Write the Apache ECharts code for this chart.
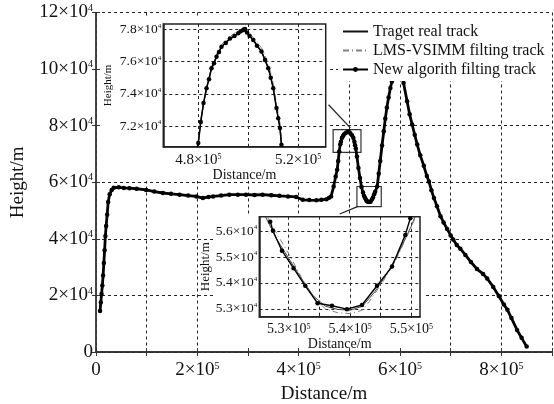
<!DOCTYPE html>
<html><head><meta charset="utf-8">
<script src="https://cdn.jsdelivr.net/npm/echarts@6/dist/echarts.min.js"></script>
<style>html,body{margin:0;padding:0;background:#fff}#c{width:554px;height:404px}</style>
</head><body><div id="c"></div>
<script>
// ---------- data ----------
const legendNames = ['Traget real track', 'LMS-VSIMM filting track', 'New algorith filting track'];

// main track (Distance m, Height m)
const mainX = [8000,9500,11000,12500,14000,15500,17000,18500,20000,22000,24000,27000,31000,35000,45000,55000,66000,80000,99000,115000,132000,148000,165000,182000,198000,211000,222000,231000,247000,263000,280000,296000,313000,329000,346000,362000,379000,395000,408000,421000,435000,445000,455000,460000,464000,469000,473000,476000,478000,480000,482100,483300,485300,487300,489300,492700,496000,498700,502000,505300,508000,510000,511300,512700,515000,518000,521000,524000,527000,528900,530800,532700,534700,537000,539500,541900,544400,546800,549000,551000,555000,558000,561000,564500,568000,571000,574000,577500,581000,584000,590000,595000,600000,603500,607000,614000,619000,624000,629000,634000,640000,647000,653000,657000,662000,667000,673000,680000,686000,693000,700000,705000,712000,719000,729000,740000,752000,764000,772000,784000,795000,805000,812000,820000,831000,840000,850000];
const mainY = [14500,17500,20500,23500,27000,31500,36000,41000,44500,48500,53000,55800,57300,58100,58200,58000,57900,57700,57300,56700,56200,55900,55600,55300,55000,54400,54800,55000,55300,55600,55600,55600,55500,55600,55400,55200,55000,54800,53800,53700,53600,53800,54000,54500,55000,58500,62000,64400,67500,70900,73400,74300,75600,76300,76900,77400,77750,78000,77350,76600,75600,74350,73100,71900,69100,65000,61500,58300,56350,55250,54550,53900,53250,53100,53000,53150,53900,54600,55800,56600,58500,63000,67500,73000,78000,82500,86300,90000,93300,95600,99500,101000,100000,97800,95100,88600,84000,80400,76800,73300,69500,65800,62200,60300,57200,54400,51500,48000,45800,43500,41200,39800,37800,36500,34300,31800,29300,27600,26000,23000,19800,16800,14900,12000,7800,5000,1900];

// inset 1 (first peak)
const ins1X    = [479600,480000,481000,482100,483300,484300,485300,486300,487300,488300,489300,491000,492700,494500,496000,497000,498000,498700,499500,500500,502000,503500,505300,506700,508000,509000,510000,511300,512000,512700,513300];
const ins1Real = [70700,70950,72300,73400,74350,74950,75600,75950,76300,76650,76900,77200,77430,77600,77750,77850,77960,78000,77850,77620,77340,77000,76620,76150,75600,75050,74350,73100,72500,71870,70830];
const ins1Lms  = [70800,71100,72400,73450,74300,75000,75700,76050,76450,76800,77050,77350,77550,77750,77900,78020,78120,78150,77950,77750,77500,77200,76850,76400,75850,75300,74650,73400,72800,72200,71200];
const ins1New  = [70700,70940,72250,73420,74350,74900,75590,75900,76300,76600,76920,77150,77430,77580,77750,77880,77960,78020,77800,77600,77340,76980,76620,76100,75590,75000,74350,73110,72480,71870,70830];

// inset 2 (valley)
const ins2RealX = [526200,528000,530000,532000,534000,536000,538000,540000,542000,544000,546000,548000,550000,550600];
const ins2RealY = [56550,55700,54950,54200,53500,53100,52980,52950,53100,53650,54350,55200,56200,56550];
const ins2LmsX  = [526500,528300,530300,532200,534000,536000,538000,540000,542000,543500,545500,547500,549500,550700];
const ins2LmsY  = [56550,55800,55000,54150,53450,53000,52850,52820,52950,53400,54100,54900,55900,56550];
const ins2NewX  = [526980,527420,528890,530780,532690,534700,537050,539490,541940,544390,546840,549000,549820];
const ins2NewY  = [56360,56010,55240,54570,53890,53220,53120,52990,53150,53890,54630,55850,56490];

// tick values
const ins1XTicks = [480000, 500000, 520000];
const ins1XLabels = [480000, 520000];
const ins1YTicks = [72000, 74000, 76000, 78000];
const ins2XTicks = [530000, 535000, 540000, 545000, 550000];
const ins2XLabels = [530000, 540000, 550000];
const ins2YTicks = [53000, 54000, 55000, 56000];

// zoom boxes and arrows (data coordinates of main chart)
const zoomBoxes = [[[468000, 78600], [523000, 70550]], [[515000, 58500], [563000, 51400]]];
const zoomArrows = [[[502000, 79200], [459000, 87400]], [[516000, 51400], [481000, 48800]]];

// ---------- chart ----------
const serif = "'Liberation Serif','Times New Roman',serif";
const xy = (xs, ys) => xs.map((x, i) => [x, ys[i]]);
function sciLabel(v, exp, dec) {
  if (v === 0) return '{m|0}';
  const m = (v / Math.pow(10, exp)).toFixed(dec);
  return '{m|' + m + '×10}{s|' + exp + '}';
}
function rich(size) {
  return {
    m: { fontSize: size, fontFamily: serif, color: '#111' },
    s: { fontSize: Math.round(size * 0.55), fontFamily: serif, color: '#111', verticalAlign: 'top' }
  };
}
const dash = { color: '#222', type: [3, 3], width: 1 };
const nameStyle = (s) => ({ fontSize: s, fontFamily: serif, color: '#111' });

const styles = [
  { lineStyle: { color: '#111', width: 1.2 }, itemStyle: { color: '#111' }, symbol: 'none' },
  { lineStyle: { color: '#808080', width: 1, type: [6, 3, 1, 3] }, itemStyle: { color: '#808080' }, symbol: 'none' },
  { lineStyle: { color: '#000', width: 2.8 }, itemStyle: { color: '#000' }, symbol: 'circle', symbolSize: 4.5, showSymbol: true, showAllSymbol: true }
];
function mk(i, data, xi, yi, z, extra) {
  return Object.assign({ name: legendNames[i], type: 'line', data: data, xAxisIndex: xi, yAxisIndex: yi, z: z, animation: false, silent: true }, JSON.parse(JSON.stringify(styles[i])), extra || {});
}

const chart = echarts.init(document.getElementById('c'), null, { renderer: 'canvas' });
const option = {
  animation: false,
  backgroundColor: '#fff',
  grid: [
    { left: 96, top: 12.5, width: 456, height: 339.5, show: false, z: 0, containLabel: false, outerBoundsMode: 'none' },
    { left: 163.3, top: 24, width: 162.4, height: 122.7, show: true, backgroundColor: '#fff', borderColor: '#222', borderWidth: 1.5, z: 2, containLabel: false, outerBoundsMode: 'none' },
    { left: 259.3, top: 216.7, width: 160.7, height: 100, show: true, backgroundColor: '#fff', borderColor: '#222', borderWidth: 1.5, z: 2, containLabel: false, outerBoundsMode: 'none' }
  ],
  graphic: [
    { type: 'rect', shape: { x: 100.5, y: 17, width: 227, height: 164 }, style: { fill: '#fff' }, z: 1, silent: true },
    { type: 'rect', shape: { x: 214, y: 214, width: 210, height: 134 }, style: { fill: '#fff' }, z: 1, silent: true }
  ],
  xAxis: [
    { type: 'value', gridIndex: 0, min: 0, max: 900000, interval: 100000, position: 'bottom',
      axisLine: { show: true, lineStyle: { color: '#555', width: 1.5 } },
      axisTick: { show: true, inside: true, length: 4, lineStyle: { color: '#333' } },
      axisLabel: { margin: 9, formatter: v => (v % 200000 === 0 ? sciLabel(v, 5, 0) : ''), rich: rich(19) },
      splitLine: { show: true, lineStyle: dash },
      name: 'Distance/m', nameLocation: 'middle', nameGap: 33, nameTextStyle: nameStyle(19) },
    { type: 'value', gridIndex: 0, min: 0, max: 900000, interval: 100000, position: 'top',
      axisLine: { show: true, lineStyle: { color: '#222', width: 1.5 } },
      axisTick: { show: true, inside: true, length: 4, lineStyle: { color: '#333' } },
      axisLabel: { show: false }, splitLine: { show: false } },
    { type: 'value', gridIndex: 1, min: 466000, max: 531000, z: 3,
      axisLine: { show: true, lineStyle: { color: '#222', width: 1.5 } },
      axisTick: { show: true, inside: true, length: 3, customValues: ins1XTicks },
      axisLabel: { margin: 6, customValues: ins1XLabels, formatter: v => sciLabel(v, 5, 1), rich: rich(15) },
      splitLine: { show: true, lineStyle: dash },
      name: 'Distance/m', nameLocation: 'middle', nameGap: 21, nameTextStyle: nameStyle(14) },
    { type: 'value', gridIndex: 2, min: 525200, max: 551400, z: 3,
      axisLine: { show: true, lineStyle: { color: '#222', width: 1.5 } },
      axisTick: { show: true, inside: true, length: 3, customValues: ins2XTicks },
      axisLabel: { margin: 6, customValues: ins2XLabels, formatter: v => sciLabel(v, 5, 1), rich: rich(14) },
      splitLine: { show: true, lineStyle: dash },
      name: 'Distance/m', nameLocation: 'middle', nameGap: 19, nameTextStyle: nameStyle(14) }
  ],
  yAxis: [
    { type: 'value', gridIndex: 0, min: 0, max: 120000, interval: 20000, position: 'left',
      axisLine: { show: true, lineStyle: { color: '#555', width: 1.5 } },
      axisTick: { show: true, inside: true, length: 4, lineStyle: { color: '#333' } },
      axisLabel: { margin: 3, formatter: v => sciLabel(v, 4, 0), rich: rich(19) },
      splitLine: { show: true, lineStyle: dash },
      name: 'Height/m', nameLocation: 'middle', nameGap: 68, nameTextStyle: nameStyle(19) },
    { type: 'value', gridIndex: 0, min: 0, max: 120000, interval: 20000, position: 'right',
      axisLine: { show: true, lineStyle: { color: '#333', width: 1.5 } },
      axisTick: { show: true, inside: true, length: 4, lineStyle: { color: '#333' } },
      axisLabel: { show: false }, splitLine: { show: false } },
    { type: 'value', gridIndex: 1, min: 70716, max: 78330, z: 3,
      axisLine: { show: true, lineStyle: { color: '#222', width: 1.5 } },
      axisTick: { show: true, inside: true, length: 3, customValues: ins1YTicks },
      axisLabel: { margin: 2, customValues: ins1YTicks, formatter: v => sciLabel(v, 4, 1), rich: rich(13.5) },
      splitLine: { show: true, lineStyle: dash },
      name: 'Height/m', nameLocation: 'middle', nameGap: 50, nameTextStyle: nameStyle(11) },
    { type: 'value', gridIndex: 2, min: 52700, max: 56550, z: 3,
      axisLine: { show: true, lineStyle: { color: '#222', width: 1.5 } },
      axisTick: { show: true, inside: true, length: 3, customValues: ins2YTicks },
      axisLabel: { margin: 2, customValues: ins2YTicks, formatter: v => sciLabel(v, 4, 1), rich: rich(13.5) },
      splitLine: { show: true, lineStyle: dash },
      name: 'Height/m', nameLocation: 'middle', nameGap: 47, nameTextStyle: nameStyle(13) }
  ],
  legend: {
    data: [
      { name: legendNames[0], itemStyle: { opacity: 0 } },
      { name: legendNames[1], itemStyle: { opacity: 0 } },
      { name: legendNames[2] }
    ],
    orient: 'vertical', left: 338, top: 13, padding: [10, 6, 3, 4],
    itemGap: 2, itemWidth: 25, itemHeight: 6, backgroundColor: '#fff', selectedMode: false, z: 10,
    textStyle: { fontFamily: serif, fontSize: 16, color: '#111', lineHeight: 17 }
  },
  series: [
    mk(0, xy(mainX, mainY), 0, 0, 2, {
      markArea: { silent: true, itemStyle: { color: 'rgba(0,0,0,0)', borderColor: '#333', borderWidth: 1.2 }, label: { show: false },
        data: zoomBoxes.map(b => [{ coord: b[0] }, { coord: b[1] }]) },
      markLine: { silent: true, symbol: ['none', 'arrow'], symbolSize: [0, 10], label: { show: false },
        lineStyle: { color: '#222', width: 1.2, type: 'solid' },
        data: zoomArrows.map(a => [{ coord: a[0] }, { coord: a[1] }]) }
    }),
    mk(1, xy(mainX, mainY), 0, 0, 2),
    mk(2, xy(mainX, mainY), 0, 0, 2),
    mk(0, xy(ins1X, ins1Real), 2, 2, 4),
    mk(1, xy(ins1X, ins1Lms), 2, 2, 4),
    mk(2, xy(ins1X, ins1New), 2, 2, 4, { lineStyle: { color: '#000', width: 1.5 }, symbolSize: 4.5 }),
    mk(0, xy(ins2RealX, ins2RealY), 3, 3, 4, { lineStyle: { color: '#444', width: 1 } }),
    mk(1, xy(ins2LmsX, ins2LmsY), 3, 3, 4),
    mk(2, xy(ins2NewX, ins2NewY), 3, 3, 4, { lineStyle: { color: '#000', width: 1.4 }, symbolSize: 4.5 })
  ]
};
chart.setOption(option);
</script>
</body></html>
